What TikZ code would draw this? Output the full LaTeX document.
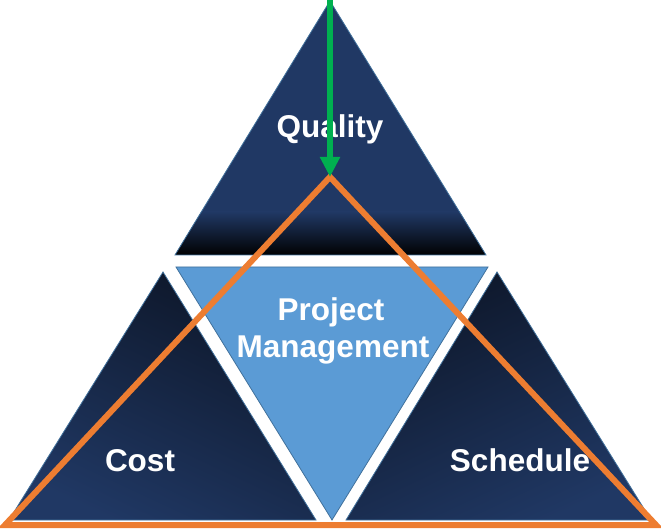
\documentclass[tikz,border=0pt]{standalone}
\usepackage{fontspec}
\setmainfont{Liberation Sans}
\usetikzlibrary{arrows.meta}
\definecolor{navy}{HTML}{203864}
\definecolor{navydark}{HTML}{0D1628}
\definecolor{lightblue}{HTML}{5B9BD5}
\definecolor{edgeblue}{HTML}{41719C}
\definecolor{pmorange}{HTML}{ED7D31}
\definecolor{pmgreen}{HTML}{00B050}
\tikzset{
  tri/.style={draw=edgeblue, line width=0.8pt},
  lbl/.style={text=white, font=\fontsize{31.5}{37}\selectfont\bfseries, anchor=base, inner sep=0pt},
  orangetri/.style={draw=pmorange, line width=6pt, line join=miter},
  greenarrow/.style={draw=pmgreen, line width=5.5pt, -{Triangle[width=19pt,length=20pt]}}
}
\begin{document}
\begin{tikzpicture}[x=1pt,y=-1pt]
\useasboundingbox (0,0) rectangle (661,529);
% top triangle
\begin{scope}
  \clip (330,1) -- (175,255) -- (486,255) -- cycle;
  \fill[navy] (0,0) rectangle (661,256);
  \shade[top color=navy, bottom color=black] (0,212) rectangle (661,256);
\end{scope}
\draw[tri] (330,1) -- (175,255) -- (486,255) -- cycle;
% middle inverted triangle
\fill[lightblue] (176,267) -- (488,267) -- (332,520) -- cycle;
\draw[tri] (176,267) -- (488,267) -- (332,520) -- cycle;
% bottom-left triangle
\shade[shading=axis, top color=navydark, bottom color=navy, shading angle=-25]
  (163,272) -- (9,520) -- (316,520) -- cycle;
\draw[tri] (163,272) -- (9,520) -- (316,520) -- cycle;
% bottom-right triangle
\shade[shading=axis, top color=navydark, bottom color=navy, shading angle=25]
  (497,272) -- (346,520) -- (651,520) -- cycle;
\draw[tri] (497,272) -- (346,520) -- (651,520) -- cycle;
% labels
\node[lbl] (quality) at (330,138) {Quality};
\node[lbl] (project) at (331,320) {Project};
\node[lbl] (mgmt) at (333,357) {Management};
\node[lbl] (cost) at (140,471) {Cost};
\node[lbl] (sched) at (520,471) {Schedule};
% orange triangle
\coordinate (oapex) at (330,177);
\coordinate (oleft) at (5,525);
\coordinate (oright) at (656,525);
\draw[orangetri] (oapex) -- (oleft) -- (oright) -- cycle;
% green arrow
\coordinate (gtop) at (330,0);
\draw[greenarrow] (gtop) -- (oapex);
\end{tikzpicture}
\end{document}
